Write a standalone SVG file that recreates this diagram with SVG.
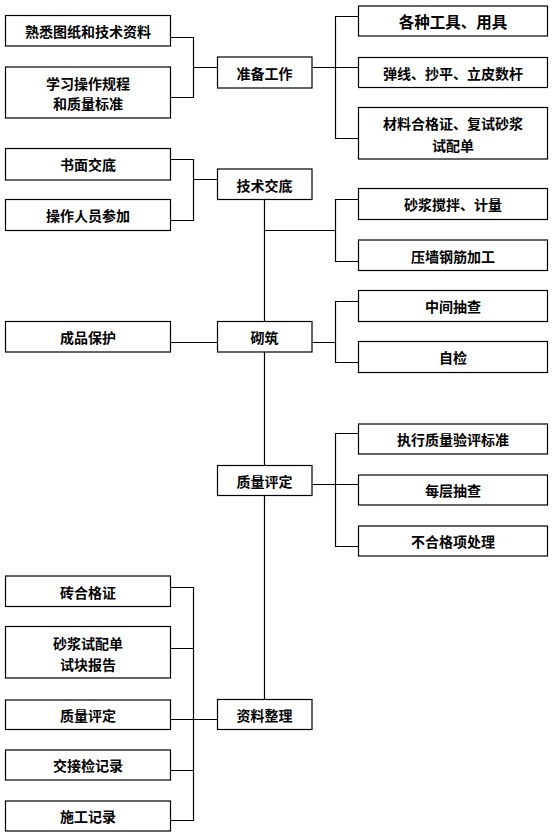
<svg xmlns="http://www.w3.org/2000/svg" width="555" height="835" viewBox="0 0 555 835">
<style>
.box{fill:#fff;stroke:#000;stroke-width:1.2}
.t{font-family:"Noto Sans CJK SC","Liberation Sans",sans-serif;font-size:14px;font-weight:bold;fill:#000;text-anchor:middle;dominant-baseline:central}
.big{font-size:15.5px}
.c{fill:none;stroke:#000;stroke-width:1.2}
</style>
<rect width="555" height="835" fill="#fff"/>
<g id="connectors" class="c">
<path d="M170.5 37.5H193.5V97.5H170.5M193.5 67.5H217.5"/>
<path d="M312 67.5H335.5M358.5 16.5H335.5V138.5H358.5M335.5 67.5H358.5"/>
<path d="M170.5 159.5H193.5V220.5H170.5M193.5 179.5H217.5"/>
<path d="M264.5 199.5V321.5M264.5 352V465.5M264.5 495.5V699.5"/>
<path d="M264.5 230.5H335.5M358.5 199.5H335.5V261.5H358.5"/>
<path d="M170.5 342.5H217.5M312 342.5H335.5M358.5 301.5H335.5V362.5H358.5"/>
<path d="M312 484.5H358.5M358.5 433.5H335.5V546.5H358.5"/>
<path d="M170.5 587.5H193.5V820.5H170.5M170.5 648.5H193.5M170.5 719.5H217.5M170.5 770.5H193.5"/>
</g>
<g id="n_shuxi"><rect class="box" x="5.5" y="15.5" width="165" height="30.5"/><text class="t" x="88" y="31">熟悉图纸和技术资料</text></g>
<g id="n_xuexi"><rect class="box" x="5.5" y="67" width="165" height="51"/><text class="t" x="88" y="82.5">学习操作规程</text><text class="t" x="88" y="103">和质量标准</text></g>
<g id="n_shumian"><rect class="box" x="5.5" y="148.5" width="165" height="31.5"/><text class="t" x="88" y="164">书面交底</text></g>
<g id="n_caozuo"><rect class="box" x="5.5" y="199.5" width="165" height="31"/><text class="t" x="88" y="215">操作人员参加</text></g>
<g id="n_chengpin"><rect class="box" x="5.5" y="321.5" width="165" height="30.5"/><text class="t" x="88" y="337">成品保护</text></g>
<g id="n_zhuan"><rect class="box" x="5.5" y="576" width="165" height="30.5"/><text class="t" x="88" y="591.5">砖合格证</text></g>
<g id="n_shajiang2"><rect class="box" x="5.5" y="626.5" width="165" height="51.5"/><text class="t" x="88" y="642.5">砂浆试配单</text><text class="t" x="88" y="664">试块报告</text></g>
<g id="n_zhiliang2"><rect class="box" x="5.5" y="700" width="165" height="29.5"/><text class="t" x="88" y="715">质量评定</text></g>
<g id="n_jiaojie"><rect class="box" x="5.5" y="750" width="165" height="30"/><text class="t" x="88" y="765">交接检记录</text></g>
<g id="n_shigong"><rect class="box" x="5.5" y="801" width="165" height="30"/><text class="t" x="88" y="816">施工记录</text></g>
<g id="n_zhunbei"><rect class="box" x="217.5" y="57" width="94.5" height="31"/><text class="t" x="264.5" y="72.5">准备工作</text></g>
<g id="n_jishu"><rect class="box" x="217.5" y="169" width="94.5" height="30.5"/><text class="t" x="264.5" y="184.5">技术交底</text></g>
<g id="n_qizhu"><rect class="box" x="217.5" y="321.5" width="94.5" height="30.5"/><text class="t" x="264.5" y="337">砌筑</text></g>
<g id="n_zhiliang"><rect class="box" x="217.5" y="465.5" width="94.5" height="30"/><text class="t" x="264.5" y="480.5">质量评定</text></g>
<g id="n_ziliao"><rect class="box" x="217.5" y="699.5" width="94.5" height="30"/><text class="t" x="264.5" y="714.5">资料整理</text></g>
<g id="n_gezhong"><rect class="box" x="358.5" y="6" width="189" height="30"/><text class="t big" x="453" y="21">各种工具、用具</text></g>
<g id="n_tanxian"><rect class="box" x="358.5" y="57.5" width="189" height="30"/><text class="t" x="453" y="72.5">弹线、抄平、立皮数杆</text></g>
<g id="n_cailiao"><rect class="box" x="358.5" y="107.5" width="189" height="51.5"/><text class="t" x="453" y="123">材料合格证、复试砂浆</text><text class="t" x="453" y="145">试配单</text></g>
<g id="n_shajiang"><rect class="box" x="358.5" y="188.5" width="189" height="31"/><text class="t" x="453" y="204">砂浆搅拌、计量</text></g>
<g id="n_yaqiang"><rect class="box" x="358.5" y="240" width="189" height="30.5"/><text class="t" x="453" y="255.5">压墙钢筋加工</text></g>
<g id="n_zhongjian"><rect class="box" x="358.5" y="290.5" width="189" height="31"/><text class="t" x="453" y="306">中间抽查</text></g>
<g id="n_zijian"><rect class="box" x="358.5" y="341.5" width="189" height="31"/><text class="t" x="453" y="357">自检</text></g>
<g id="n_zhixing"><rect class="box" x="358.5" y="424" width="189" height="30"/><text class="t" x="453" y="439">执行质量验评标准</text></g>
<g id="n_meiceng"><rect class="box" x="358.5" y="475" width="189" height="30"/><text class="t" x="453" y="490">每层抽查</text></g>
<g id="n_buhege"><rect class="box" x="358.5" y="526" width="189" height="30"/><text class="t" x="453" y="541">不合格项处理</text></g>
</svg>
